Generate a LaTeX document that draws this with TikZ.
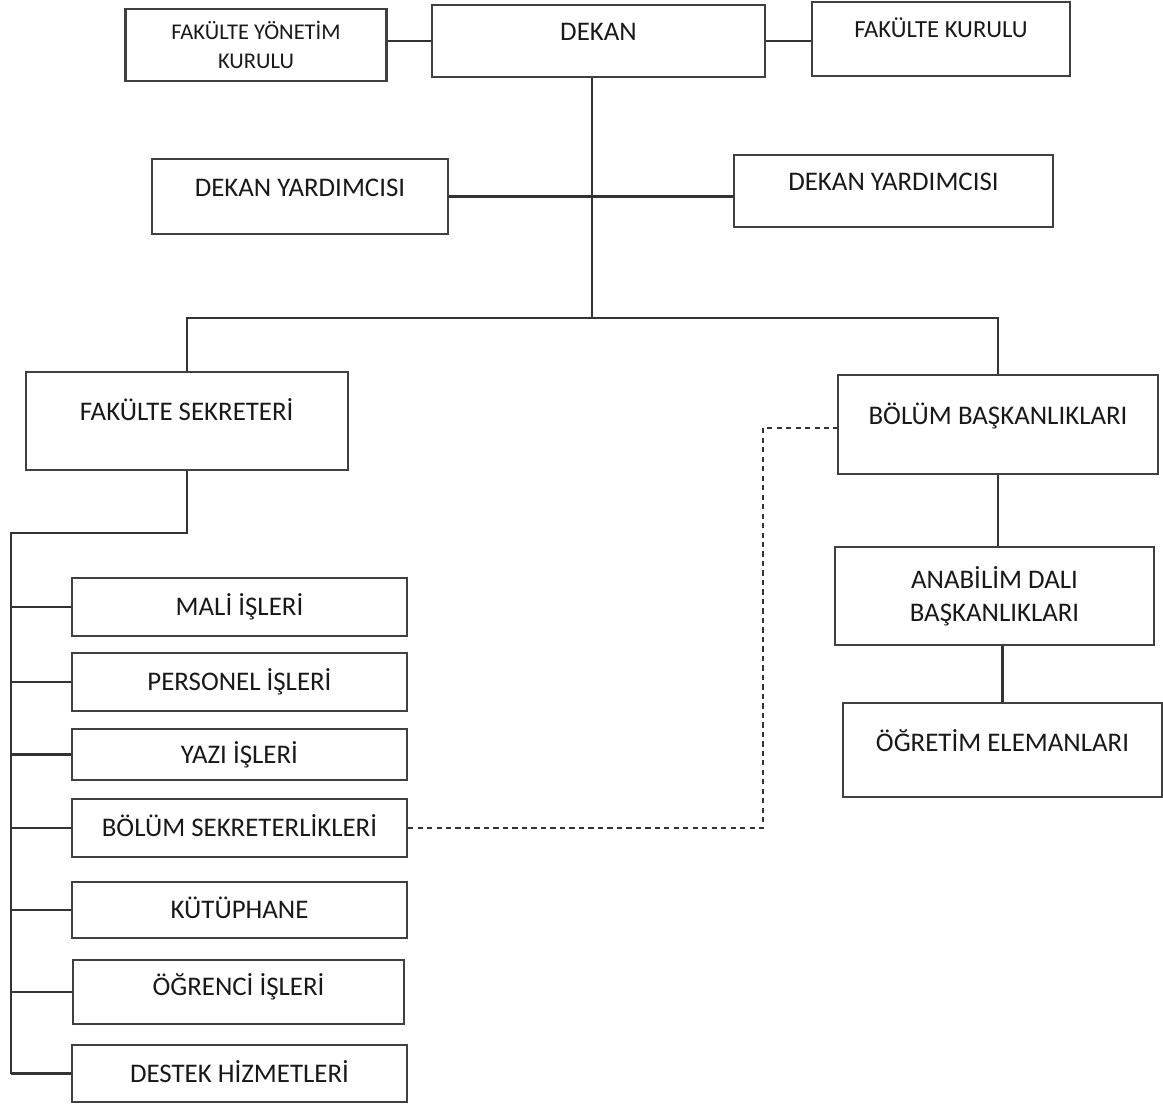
\documentclass[tikz,border=0pt]{standalone}
\usepackage{fontspec}
\setmainfont{Carlito}
\begin{document}
\begin{tikzpicture}[x=0.02cm,y=-0.02cm]
  \tikzstyle{box}=[draw=black!75,line width=1.2pt,inner sep=0pt,text=black!90,font=\fontsize{15.3}{18.7}\selectfont]
  \tikzstyle{head}=[box,text height=10pt,text depth=10pt]
  \tikzstyle{unit}=[box,text height=10pt,text depth=0pt]
  \tikzstyle{link}=[draw=black!80,line width=1.2pt]
  \tikzstyle{liaison}=[draw=black!80,line width=0.9pt,dash pattern=on 3pt off 2.4pt]
  \def\u{0.02cm} % one pixel of the sheet
  \useasboundingbox (0,0) rectangle (1163,1104);
  \node[box,align=center,font=\fontsize{12.8}{16.4}\selectfont,minimum width=261*\u,minimum height=72*\u] (fyk) at (256,45) {FAKÜLTE YÖNETİM\\KURULU};
  \node[head,minimum width=333*\u,minimum height=72*\u] (dekan) at (598.5,41) {DEKAN};
  \node[head,font=\fontsize{14}{17}\selectfont,text depth=12pt,minimum width=258*\u,minimum height=74*\u] (fk) at (941,39) {FAKÜLTE KURULU};
  \node[head,minimum width=296*\u,minimum height=75*\u] (dyl) at (300,196.5) {DEKAN YARDIMCISI};
  \node[head,minimum width=319*\u,minimum height=72*\u] (dyr) at (893.5,191) {DEKAN YARDIMCISI};
  \node[head,minimum width=322*\u,minimum height=98*\u] (fs) at (186.7,421) {FAKÜLTE SEKRETERİ};
  \node[head,minimum width=320*\u,minimum height=99*\u] (bb) at (998,424.5) {BÖLÜM BAŞKANLIKLARI};
  \node[box,align=center,minimum width=319*\u,minimum height=98*\u] (ana) at (994.5,596) {ANABİLİM DALI\\BAŞKANLIKLARI};
  \node[head,text depth=8pt,minimum width=319*\u,minimum height=94*\u] (oe) at (1002.5,750) {ÖĞRETİM ELEMANLARI};
  % units under the secretary
  \node[unit,minimum width=335*\u,minimum height=58*\u] (mali) at (239.5,607) {MALİ İŞLERİ};
  \node[unit,minimum width=335*\u,minimum height=58*\u] (pers) at (239.5,682) {PERSONEL İŞLERİ};
  \node[unit,minimum width=335*\u,minimum height=51*\u] (yazi) at (239.5,754.5) {YAZI İŞLERİ};
  \node[unit,minimum width=335*\u,minimum height=58*\u] (bsek) at (239.5,828) {BÖLÜM SEKRETERLİKLERİ};
  \node[unit,minimum width=335*\u,minimum height=56*\u] (kut) at (239.5,910) {KÜTÜPHANE};
  \node[unit,text depth=6pt,minimum width=331*\u,minimum height=64*\u] (ogr) at (238.5,992) {ÖĞRENCİ İŞLERİ};
  \node[unit,minimum width=335*\u,minimum height=57*\u] (des) at (239.5,1073.5) {DESTEK HİZMETLERİ};
  \coordinate (split) at (592,318);
  \coordinate (bus) at (11,533);
  \coordinate (elbow) at (763,428);
  \draw[link] (fyk.east |- dekan.west) -- (dekan.west);
  \draw[link] (dekan.east) -- (dekan.east -| fk.west);
  \draw[link] (dekan.south -| split) -- (split);
  \draw[link] (dyl.east) -- (dyl.east -| dyr.west);
  \draw[link] (fs.north) |- (split) -| (bb.north);
  \draw[link] (fs.south) |- (bus) -- (bus |- des.west);
  \foreach \n in {mali,pers,yazi,bsek,kut,ogr,des}
    \draw[link] (bus |- \n.west) -- (\n.west);
  \draw[liaison] (bsek.east) -| (elbow) -- (bb.west |- elbow);
  \draw[link] (bb.south) -- (bb.south |- ana.north);
  \draw[link] (ana.south -| oe.north) -- (oe.north);
\end{tikzpicture}
\end{document}
